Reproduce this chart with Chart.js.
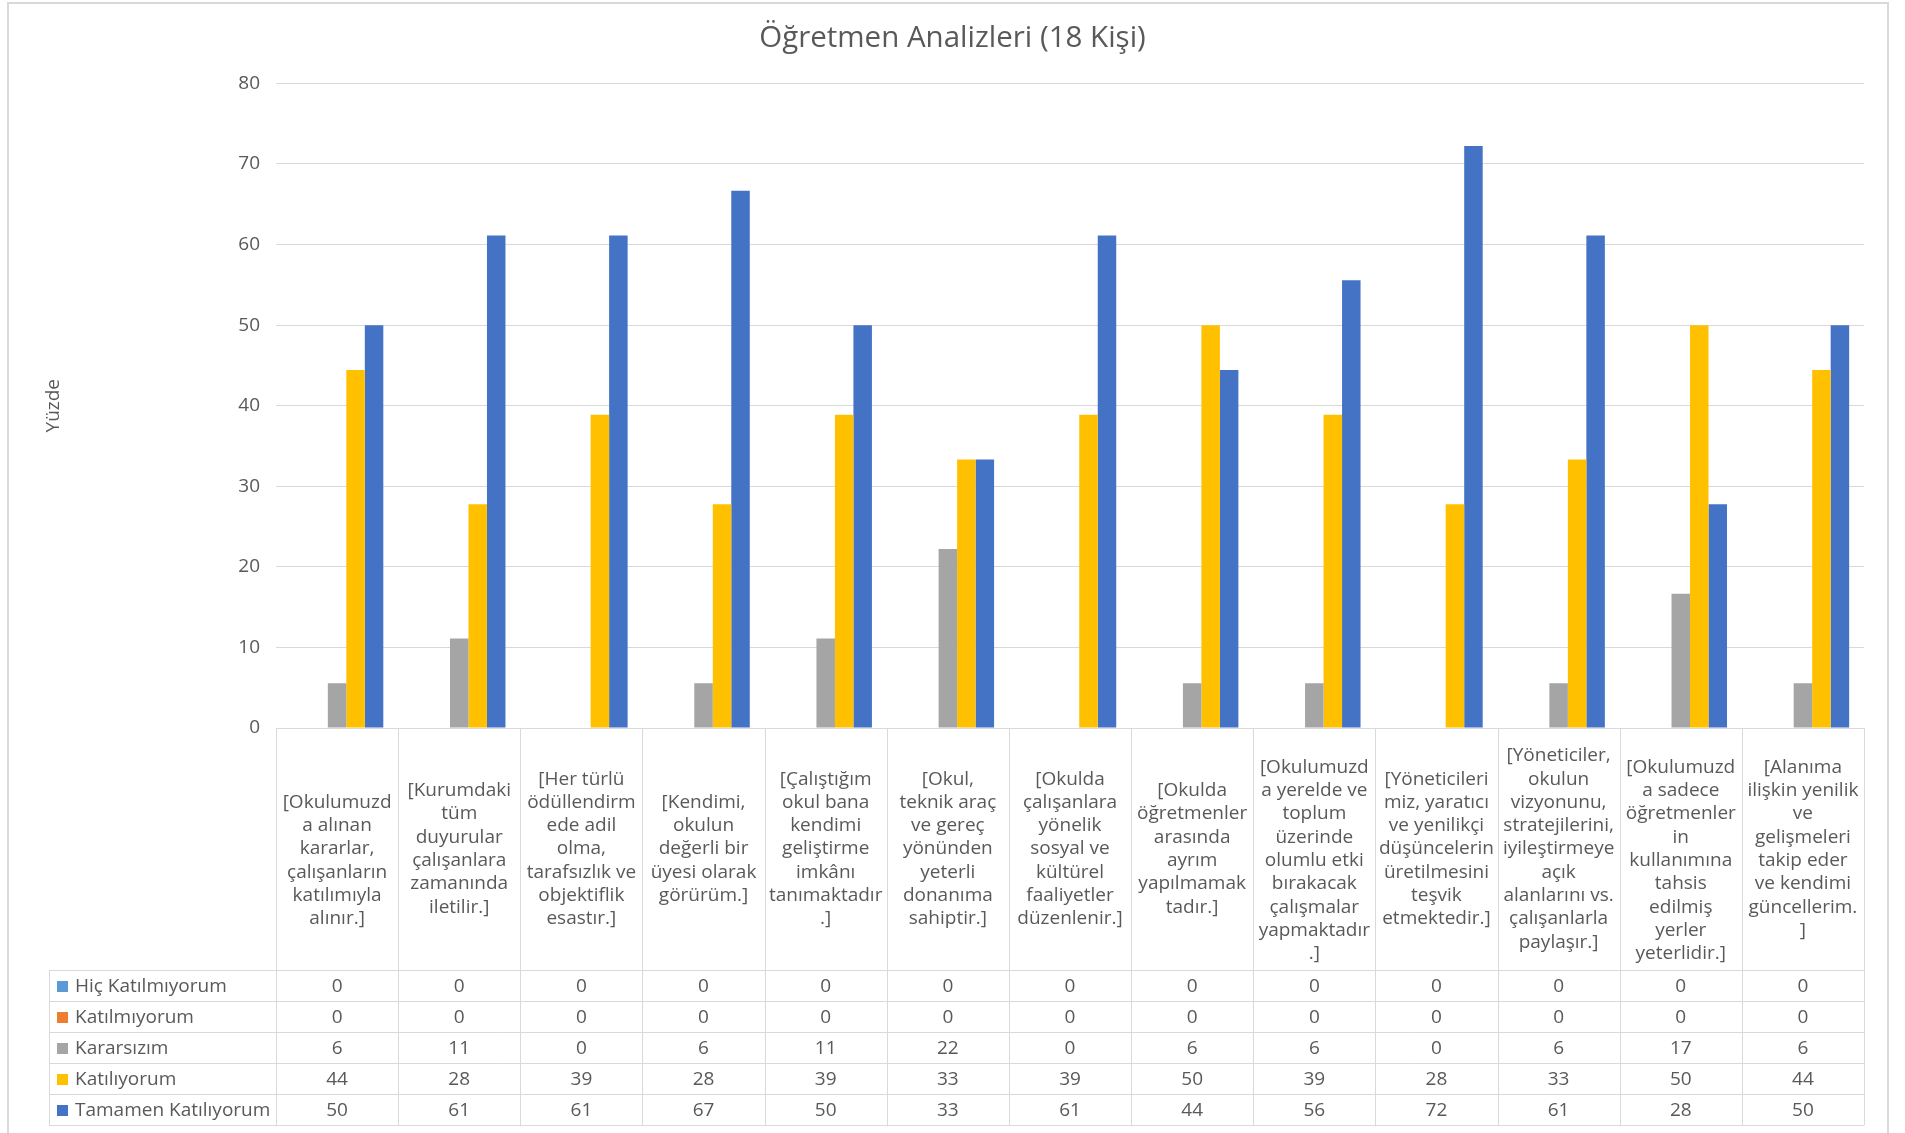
<!DOCTYPE html>
<html>
<head>
<meta charset="utf-8">
<script src="https://cdn.jsdelivr.net/npm/chart.js@4.4.1/dist/chart.umd.min.js"></script>
<style>
  html, body { margin: 0; padding: 0; background: #ffffff; overflow: hidden; }
  #wrap { position: absolute; left: 0; top: 0; width: 1905px; height: 1133px; }
</style>
</head>
<body>
<div id="wrap"><canvas id="c"></canvas></div>
<script>
// ---------- DATA ----------
const chartTitle = 'Öğretmen Analizleri (18 Kişi)';
const yAxisTitle = 'Yüzde';

const categories = [
  ['', '[Okulumuzd', 'a alınan', 'kararlar,', 'çalışanların', 'katılımıyla', 'alınır.]'],
  ['[Kurumdaki', 'tüm', 'duyurular', 'çalışanlara', 'zamanında', 'iletilir.]'],
  ['[Her türlü', 'ödüllendirm', 'ede adil', 'olma,', 'tarafsızlık ve', 'objektiflik', 'esastır.]'],
  ['[Kendimi,', 'okulun', 'değerli bir', 'üyesi olarak', 'görürüm.]'],
  ['[Çalıştığım', 'okul bana', 'kendimi', 'geliştirme', 'imkânı', 'tanımaktadır', '.]'],
  ['[Okul,', 'teknik araç', 've gereç', 'yönünden', 'yeterli', 'donanıma', 'sahiptir.]'],
  ['[Okulda', 'çalışanlara', 'yönelik', 'sosyal ve', 'kültürel', 'faaliyetler', 'düzenlenir.]'],
  ['[Okulda', 'öğretmenler', 'arasında', 'ayrım', 'yapılmamak', 'tadır.]'],
  ['', '[Okulumuzd', 'a yerelde ve', 'toplum', 'üzerinde', 'olumlu etki', 'bırakacak', 'çalışmalar', 'yapmaktadır', '.]'],
  ['[Yöneticileri', 'miz, yaratıcı', 've yenilikçi', 'düşüncelerin', 'üretilmesini', 'teşvik', 'etmektedir.]'],
  ['[Yöneticiler,', 'okulun', 'vizyonunu,', 'stratejilerini,', 'iyileştirmeye', 'açık', 'alanlarını vs.', 'çalışanlarla', 'paylaşır.]'],
  ['', '[Okulumuzd', 'a sadece', 'öğretmenler', 'in', 'kullanımına', 'tahsis', 'edilmiş', 'yerler', 'yeterlidir.]'],
  ['[Alanıma', 'ilişkin yenilik', 've', 'gelişmeleri', 'takip eder', 've kendimi', 'güncellerim.', ']']
];

const seriesNames = ['Hiç Katılmıyorum', 'Katılmıyorum', 'Kararsızım', 'Katılıyorum', 'Tamamen Katılıyorum'];

const hicKatilmiyorum   = [0, 0, 0, 0, 0, 0, 0, 0, 0, 0, 0, 0, 0];
const katilmiyorum      = [0, 0, 0, 0, 0, 0, 0, 0, 0, 0, 0, 0, 0];
const kararsizim        = [5.56, 11.11, 0, 5.56, 11.11, 22.22, 0, 5.56, 5.56, 0, 5.56, 16.67, 5.56];
const katiliyorum       = [44.44, 27.78, 38.89, 27.78, 38.89, 33.33, 38.89, 50, 38.89, 27.78, 33.33, 50, 44.44];
const tamamenKatiliyorum = [50, 61.11, 61.11, 66.67, 50, 33.33, 61.11, 44.44, 55.56, 72.22, 61.11, 27.78, 50];

const yMin = 0, yMax = 80, yStep = 10;

// ---------- STYLE ----------
const seriesColors = ['#5B9BD5', '#ED7D31', '#A5A5A5', '#FFC000', '#4472C4'];
const textColor = '#595959';
const lineColor = '#D9D9D9';
const FONT = '"Open Sans", "DejaVu Sans", sans-serif';

const seriesData = [hicKatilmiyorum, katilmiyorum, kararsizim, katiliyorum, tamamenKatiliyorum];

// frame plugin
const framePlugin = {
  id: 'frame',
  beforeDraw(chart) {
    const ctx = chart.ctx;
    ctx.save();
    ctx.fillStyle = '#ffffff';
    ctx.fillRect(0, 0, chart.width, chart.height);
    ctx.strokeStyle = lineColor;
    ctx.lineWidth = 2;
    ctx.strokeRect(8, 3, 1880, 1140);
    ctx.restore();
  }
};

// data table plugin (category header + legend rows + values)
const tablePlugin = {
  id: 'dataTable',
  afterDraw(chart) {
    const ctx = chart.ctx;
    const a = chart.chartArea;
    const xs = chart.scales.x;
    const n = categories.length;
    const cw = (a.right - a.left) / n;
    const tableLeft = 49;
    const headerTop = a.bottom;
    const headerBottom = 970;
    const rowH = 31;
    const rows = chart.data.datasets.length;
    const tableBottom = headerBottom + rows * rowH;

    ctx.save();
    ctx.strokeStyle = lineColor;
    ctx.lineWidth = 1;
    ctx.beginPath();
    ctx.moveTo(a.left, headerTop + 0.5); ctx.lineTo(a.right, headerTop + 0.5);
    for (let r = 0; r <= rows; r++) {
      const y = Math.round(headerBottom + r * rowH) + 0.5;
      ctx.moveTo(tableLeft, y); ctx.lineTo(a.right, y);
    }
    ctx.moveTo(tableLeft + 0.5, headerBottom); ctx.lineTo(tableLeft + 0.5, tableBottom);
    for (let i = 0; i <= n; i++) {
      const x = Math.round(a.left + i * cw) + 0.5;
      ctx.moveTo(x, headerTop); ctx.lineTo(x, tableBottom);
    }
    ctx.stroke();

    ctx.fillStyle = textColor;
    ctx.font = '19px ' + FONT;
    ctx.textAlign = 'center';
    ctx.textBaseline = 'middle';
    const lh = 23.3;
    const hc = (headerTop + headerBottom) / 2;
    categories.forEach((lines, i) => {
      const cx = xs.getPixelForValue(i);
      const m = lines.length;
      lines.forEach((t, k) => {
        ctx.fillText(t, cx, hc + (k - (m - 1) / 2) * lh);
      });
    });
    chart.data.datasets.forEach((ds, r) => {
      const yc = headerBottom + r * rowH + rowH / 2 + 1;
      ctx.fillStyle = ds.backgroundColor;
      ctx.fillRect(57, Math.round(yc - 5.5), 11, 11);
      ctx.fillStyle = textColor;
      ctx.textAlign = 'left';
      ctx.fillText(ds.label, 75, yc);
      ctx.textAlign = 'center';
      ds.data.forEach((v, i) => {
        ctx.fillText(String(Math.round(v)), xs.getPixelForValue(i), yc);
      });
    });
    ctx.restore();
  }
};

function build() {
  new Chart(document.getElementById('c'), {
    type: 'bar',
    data: {
      labels: categories,
      datasets: seriesNames.map((name, i) => ({
        label: name,
        data: seriesData[i],
        backgroundColor: seriesColors[i],
        borderWidth: 0,
        categoryPercentage: 0.757,
        barPercentage: 1.0
      }))
    },
    options: {
      responsive: true,
      maintainAspectRatio: false,
      animation: false,
      devicePixelRatio: 1,
      layout: { padding: { left: 41, right: 41, top: 0, bottom: 405 } },
      plugins: {
        legend: { display: false },
        tooltip: { enabled: false },
        title: {
          display: true,
          text: chartTitle,
          color: textColor,
          font: { family: FONT, size: 29.5, weight: 'normal' },
          padding: { top: 21, bottom: 27 }
        }
      },
      scales: {
        x: { display: false },
        y: {
          min: yMin, max: yMax,
          ticks: { stepSize: yStep, color: textColor, font: { family: FONT, size: 19 }, padding: 16 },
          grid: { color: lineColor, lineWidth: 1, drawTicks: false },
          border: { display: false },
          title: {
            display: true, text: yAxisTitle, color: textColor,
            font: { family: FONT, size: 19 },
            padding: { top: 1, bottom: 0 }
          },
          afterFit(scale) { scale.width = 235; }
        }
      }
    },
    plugins: [framePlugin, tablePlugin]
  });
}

if (document.fonts && document.fonts.load) {
  Promise.all([document.fonts.load('19px "Open Sans"'), document.fonts.load('29.5px "Open Sans"')])
    .then(build, build);
} else { build(); }
</script>
</body>
</html>
